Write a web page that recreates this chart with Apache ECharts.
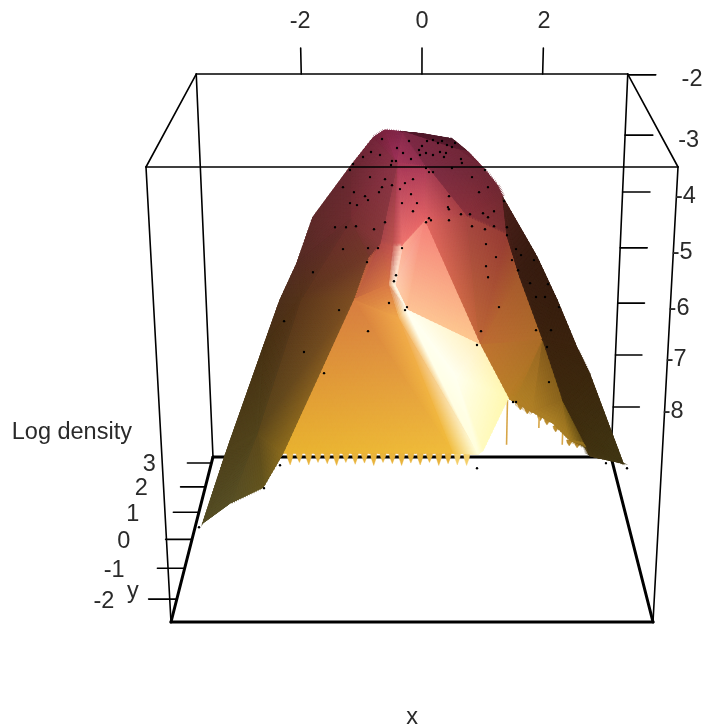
<!DOCTYPE html>
<html><head><meta charset="utf-8">
<style>html,body{margin:0;padding:0;background:#fff}#c{width:702px;height:728px}</style>
<script src="https://cdn.jsdelivr.net/npm/echarts@6/dist/echarts.min.js"></script>
</head><body><div id="c"></div>
<script>
// ---- data limits and tick labels ----
const xLimits = [-3.74, 3.41];
const yLimits = [-2.7, 3.26];
const zLimits = [-9, -2];
const xTicks = [-2, 0, 2];
const yTicks = [-2, -1, 0, 1, 2, 3];
const zTicks = [-2, -3, -4, -5, -6, -7, -8];
// where each log-density tick sits as read against the box edge
const zTickAt = [-2.014, -3.043, -4.037, -5.038, -6.05, -7.023, -8.02];
const xTitle = 'x', yTitle = 'y', zTitle = 'Log density';

// ---- surface vertices: [x, y, log density] ----
const surfaceVertices = {
  V0:[-3.584,.28,-8.835],V1:[-3.145,.28,-7.527],V2:[-2.512,.28,-5.756],V3:[-2.223,.28,-4.95],
  V4:[-1.944,.28,-4.342],V5:[-1.682,.28,-3.597],V6:[-1.104,.28,-2.8],V7:[-.754,.28,-2.347],
  V8:[-.571,.28,-2.224],V9:[-.31,2.07,-2.694],V10:[.012,2.07,-2.727],V11:[.48,2.07,-2.81],
  V12:[.739,2.07,-3.026],V13:[.985,2.07,-3.295],V14:[1.129,.28,-3.085],V15:[1.224,.28,-3.291],
  V16:[1.766,.28,-4.243],V17:[2.096,.28,-4.95],V18:[2.434,.28,-5.756],V19:[2.656,.28,-6.219],
  V20:[3.243,.28,-7.76],V21:[2.898,2.07,-8.44],V22:[2.771,2.07,-8.196],V23:[2.546,2.07,-8.14],
  V24:[2.246,2.07,-7.821],V25:[1.899,2.07,-7.615],V26:[1.589,2.07,-7.427],V27:[1.468,2.07,-7.353],
  V28:[.9,-1.51,-6.724],V30:[-2.103,-1.51,-6.773],V31:[-2.418,-1.51,-7.342],V32:[-2.928,-1.51,-7.609],
  S1:[.577,2.07,-2.993],I1:[-.392,.28,-2.737],I2:[.062,.28,-2.8],I3:[-.658,.28,-4.015],
  I4:[.034,.28,-3.677],I5:[-.429,.28,-4.703],I6:[-.243,.28,-5.118],I7:[.905,.28,-5.706],
  I8:[-.319,.28,-4.08],I9:[.678,.28,-3.597],I10:[1.296,.28,-3.887],I11:[1.511,.28,-4.572],
  I12:[1.896,.28,-5.622],I13:[2.24,.28,-6.648],I14:[2.653,.28,-7.474],I15:[-1.085,.28,-4.95],
  I16:[-.845,.28,-4.243],I19:[-1.115,.28,-3.645],LA1:[-1.911,.28,-4.95],LA2:[-2.653,.28,-7.228],
  I8L:[-.473,.28,-4.08],I5L:[-.538,.28,-4.703],W1:[-.384,.28,-5.252],W2:[.436,-1.51,-6.773],
  W4:[.827,-1.51,-6.79],FC:[.514,.28,-6.219]
};
const facets = [
 ['V7','V8','I1'],['V8','V9','I1'],['V6','V7','I1'],['V9','I2','I1'],
 ['V9','V10','S1'],['V10','V11','S1'],['V11','V12','S1'],['V9','S1','I2'],['S1','V12','V13'],['S1','V13','I2'],
 ['I2','V13','I9'],['V13','V14','I9'],['V14','V15','I9'],['V15','I10','I9'],
 ['I1','I2','I4'],['I1','I4','I8'],['I1','I8L','I8'],['I1','I3','I8L'],
 ['I2','I9','I4'],['I9','I7','I4'],['I9','I10','I7'],['I10','I11','I7'],['I11','I12','I7'],
 ['I7','I12','V27'],['I12','V26','V27'],['I12','V25','V26'],['I12','I13','V25'],['I13','V24','V25'],
 ['I13','V23','V24'],['I13','I14','V23'],['I14','V22','V23'],['I14','V21','V22'],
 ['V15','V16','I11'],['V15','I11','I10'],['V16','V17','I11'],['V17','I12','I11'],['V17','V18','I12'],
 ['V18','V19','I12'],['V19','I13','I12'],['V19','V20','I13'],['I13','V20','I14'],['I14','V20','V21'],
 ['I4','I8','I5'],['I4','I5','I6'],['I4','I6','I7'],
 ['I8L','I8','I5'],['I8L','I5','I5L'],['I5L','I5','I6'],['I5L','I6','W1'],['W1','I6','W4'],['W1','W4','W2'],
 ['I6','I7','FC'],['I7','V27','FC'],['V27','V28','FC'],['V28','W4','FC'],['W4','I6','FC'],
 ['I3','I8L','I5L'],['I3','I5L','I15'],['I3','I16','I15'],['I15','I5L','W1'],['I15','W1','W2'],['I15','W2','V30'],
 ['V6','I19','I1'],['I1','I19','I3'],['I19','I16','I3'],['I19','LA1','I16'],['LA1','I15','I16'],['LA1','LA2','I15'],
 ['LA2','V30','I15'],['LA2','V31','V30'],['LA2','V32','V31'],
 ['V5','V6','I19'],['V4','V5','I19'],['V4','I19','LA1'],['V3','V4','LA1'],['V2','V3','LA1'],['V2','LA1','LA2'],
 ['V1','V2','LA2'],['V0','V1','LA2'],['V0','LA2','V32']
];
// hanging grid cells along the hull edge: x, edge height, tip height
const fringeX = [-1.999,-1.859,-1.719,-1.579,-1.44,-1.3,-1.16,-1.02,-.88,-.741,-.601,-.461,-.321,-.182,-.042,.098,.238,.378,.517,.657];
const fringeTip = [-6.97,-6.93,-6.97,-6.93,-6.95,-6.98,-6.93,-6.96,-6.94,-6.98,-6.93,-6.95,-6.98,-6.94,-6.97,-6.93,-6.98,-6.95,-6.97,-6.98];
const fringeEdgeY = -1.51, fringeEdgeZ = -6.76;
const backFringeX = [1.682,1.802,2.024,2.144,2.297,2.537,2.674];
const backFringeEdge = [-7.465,-7.54,-7.671,-7.746,-7.877,-8.14,-8.177];
const backFringeTip = [-7.577,-7.652,-7.783,-7.858,-7.989,-8.252,-8.29];
const dripX = [1.46, 2.007, 2.417];
const dripTop = [-7.39, -7.71, -8.01];
const dripTip = [-8.23, -7.915, -8.23];
const dripY = 2.07;
// sample points: [x, y, log density]
const samplePoints = [
[-.648,2.07,-2.81],[-.407,2.07,-2.96],[-.213,2.07,-2.844],[-.827,2.07,-3.027],[-.682,2.07,-3.077],[-.957,2.07,-3.11],[-.31,2.07,-3.043],[-.181,2.07,-3.144],
[-.052,2.07,-2.993],[-.004,2.07,-2.927],[-.036,2.07,-3.077],[.061,2.07,-3.043],[.174,2.07,-3.077],[.287,2.07,-3.027],[.384,2.07,-3.043],[.352,2.07,-3.11],
[.077,2.07,-2.844],[.173,2.07,-2.827],[.254,2.07,-2.877],[.319,2.07,-2.844],[.399,2.07,-2.91],[.48,2.07,-2.943],[.528,2.07,-2.877],[.627,2.07,-3.144],
[.643,2.07,-3.211],[-.424,2.07,-3.177],[-.489,2.07,-3.177],[-.505,2.07,-3.244],[-1.119,2.07,-3.227],
[-1.106,.28,-2.847],[.047,.28,-2.815],[.093,.28,-2.879],[.154,.28,-2.879],[.441,.28,-2.815],[.942,.28,-2.847],[.747,.28,-2.958],[.992,.28,-3.117],[.857,.28,-3.196],
[.4,.28,-3.26],[-.15,.28,-2.99],[-.272,.28,-3.053],[-.348,.28,-3.148],[-.469,.28,-3.085],[-.575,.28,-2.99],[-.622,.28,-3.117],[-.668,.28,-3.196],[-.803,.28,-2.958],
[-1.05,.28,-3.196],[-1.216,.28,-3.117],[-.882,.28,-3.26],[-.837,.28,-3.323],[-1.112,.28,-3.371],[-1.006,.28,-3.403],[-.318,.28,-3.371],[-.18,.28,-3.228],[-.089,.28,-3.371],
[-.15,.28,-3.5],[.385,.28,-3.436],[.4,.28,-3.468],[.585,.28,-3.548],[.723,.28,-3.548],[.922,.28,-3.532],[1,.28,-3.597],[1.09,.28,-3.5],[.402,.28,-3.645],[.096,.28,-3.613],
[.126,.28,-3.645],[.05,.28,-3.677],[-.579,.28,-3.677],[.756,.28,-3.742],[.956,.28,-3.79],[1.094,.28,-3.742],[-1.025,.28,-3.742],[-1.178,.28,-3.758],[-1.347,.28,-3.758],
[-.749,.28,-3.79],[.975,.28,-4.031],[-.843,.28,-4.096],[-.689,.28,-4.096],[-.319,.28,-4.096],[-1.229,.28,-4.112],[-.861,.28,-4.325],[1.133,.28,-4.243],[.981,.28,-4.391],
[1.015,.28,-4.572],[-.413,.28,-4.539],[-.445,.28,-4.638],[-.524,.28,-5],[-.243,.28,-5.068],[-.274,.28,-5.118],[1.193,.28,-5.068],[-.855,.28,-5.471],[.918,.28,-5.471],
[.858,.28,-5.706],[1.293,.28,-3.758],[1.296,.28,-3.887],[1.44,.28,-4.112],[1.519,.28,-4.21],[1.721,.28,-4.292],[1.381,.28,-4.292],[1.478,.28,-4.457],[1.669,.28,-4.67],
[1.948,.28,-4.687],[1.767,.28,-4.9],[1.907,.28,-4.9],[2.13,.28,-5.068],[1.24,.28,-3.339],[-1.7,.28,-4.49],[-1.305,.28,-5.118],[-2.169,.28,-5.303],[-1.868,.28,-5.824],
[-1.558,.28,-6.185],[1.781,.28,-5.454],[2.016,.28,-5.454],[1.961,.28,-5.74],[2.009,.28,-6.339],[1.445,.28,-6.682],[1.493,.28,-6.682],[.886,.28,-7.85],[2.968,.28,-7.76],
[3.312,.28,-7.85],[-2.568,.28,-8.208],[-3.654,.28,-8.92],[-2.298,.28,-7.796]
];

// ---- styles ----
const facetShades = [
 [[110,35,55],[125,35,65],[150,50,80]],[[125,35,65],[130,40,75],[160,50,90]],[[105,40,50],[115,38,58],[140,50,72]],[[135,42,75],[145,50,80],[165,55,90]],
 [[85,25,45],[80,25,42],[95,30,50]],[[80,25,42],[75,25,40],[95,30,50]],[[75,25,40],[85,28,42],[95,30,50]],[[125,40,70],[115,40,58],[125,45,68]],[[115,40,58],[105,35,52],[110,40,55]],[[115,40,58],[110,40,55],[125,45,68]],
 [[125,45,68],[110,40,55],[140,50,60]],[[110,40,55],[112,40,52],[140,50,60]],[[112,40,52],[115,42,50],[140,50,60]],[[115,42,50],[125,50,48],[140,50,60]],
 [[165,55,88],[170,60,88],[228,100,102]],[[165,55,88],[228,100,102],[240,118,112]],[[165,55,86],[190,82,80],[240,118,112]],[[150,55,75],[170,72,75],[190,85,78]],
 [[165,60,85],[165,65,65],[228,100,102]],[[165,68,65],[195,105,58],[225,102,98]],[[165,70,65],[150,60,52],[190,105,55]],[[150,60,52],[165,90,45],[190,105,55]],[[165,90,45],[175,110,42],[190,108,52]],
 [[192,115,50],[170,108,40],[185,128,40]],[[170,108,40],[178,128,38],[185,128,40]],[[150,100,35],[175,128,38],[178,128,38]],[[130,88,28],[135,98,28],[175,128,38]],[[135,98,28],[170,128,38],[175,128,38]],
 [[135,98,28],[165,125,35],[170,128,38]],[[120,90,25],[95,75,22],[165,125,35]],[[95,75,22],[155,118,32],[165,125,35]],[[90,72,22],[120,95,28],[155,118,32]],
 [[75,32,28],[55,28,16],[58,30,18]],[[75,32,28],[58,30,18],[80,35,30]],[[55,28,16],[55,30,15],[58,30,18]],[[55,30,15],[60,35,15],[58,30,18]],[[55,30,15],[60,36,15],[60,35,15]],
 [[60,36,15],[60,40,15],[60,35,15]],[[60,40,15],[62,42,15],[60,35,15]],[[60,40,15],[65,55,20],[62,42,15]],[[62,42,15],[65,55,20],[65,50,18]],[[65,50,18],[65,55,20],[70,55,20]],
 [[245,130,122],[252,175,150],[254,205,175]],[[245,130,122],[254,205,175],[253,195,150]],[[245,130,122],[253,195,150],[253,200,142]],
 [[195,85,78],[255,205,185],[255,245,225]],[[195,85,78],[255,245,225],[218,122,70]],[[218,122,70],[255,250,230],[255,255,240]],[[218,122,70],[255,255,240],[240,170,75]],[[240,168,75],[255,255,240],[255,254,220]],[[240,168,75],[255,254,220],[240,188,60]],
 [[255,255,240],[255,240,190],[255,255,240]],[[255,240,190],[255,248,175],[255,255,240]],[[255,248,175],[255,250,190],[255,255,240]],[[255,250,190],[255,254,220],[255,255,240]],[[255,254,220],[255,255,240],[255,255,240]],
 [[175,72,72],[195,85,78],[218,122,70]],[[175,72,72],[218,122,70],[195,105,62]],[[175,72,72],[180,90,65],[205,115,62]],[[210,120,62],[218,122,70],[240,168,75]],[[215,125,65],[240,168,75],[240,188,60]],[[215,125,65],[240,188,60],[232,178,48]],
 [[105,40,50],[118,45,50],[140,52,72]],[[140,52,72],[118,47,50],[135,58,58]],[[118,47,50],[115,55,45],[135,58,58]],[[112,46,48],[92,55,28],[115,58,42]],[[92,55,28],[125,78,35],[115,58,42]],[[92,55,28],[92,72,28],[125,78,35]],
 [[92,72,28],[140,108,30],[125,78,35]],[[92,72,28],[100,85,30],[140,108,30]],[[92,72,28],[88,80,38],[100,85,30]],
 [[95,42,42],[105,40,50],[110,45,48]],[[85,44,35],[95,42,42],[110,45,48]],[[85,44,35],[105,45,46],[85,52,26]],[[78,48,28],[85,44,35],[85,52,26]],[[72,50,20],[78,48,28],[85,52,26]],[[72,50,20],[85,52,26],[82,68,28]],
 [[80,66,28],[72,50,20],[82,68,28]],[[85,78,38],[80,66,28],[82,68,28]],[[85,78,38],[82,68,28],[88,80,38]]
];
const FONT = '"Liberation Sans", Arial, sans-serif';
const FONT_SIZE = 23.5, TEXT_COLOR = '#2a2a2a', THIN = 1.6, THICK = 3;
const CELL_PX = 5;
// perspective box fitted to the picture
const view = {cx:412, halfW:241, base:622, depthY:-68.6, heightY:-470.7, depthD:.211, heightD:-.094};

// ---- projection ----
function project(u, v, w) {
  const d = 1 + view.depthD * v + view.heightD * w;
  return [view.cx + view.halfW * (2 * u - 1) / d, (view.base + view.depthY * v + view.heightY * w) / d];
}
const toU = x => (x - xLimits[0]) / (xLimits[1] - xLimits[0]);
const toV = y => (y - yLimits[0]) / (yLimits[1] - yLimits[0]);
const toW = z => (z - zLimits[0]) / (zLimits[1] - zLimits[0]);
const fromData = (x, y, z) => project(toU(x), toV(y), toW(z));

// ---- box and ticks ----
const C = (u, v, w) => [u, v, w];
const backEdges = [
  [C(0,1,1),C(1,1,1),THIN],[C(0,1,0),C(0,1,1),THIN],[C(1,1,0),C(1,1,1),THIN],
  [C(0,0,1),C(0,1,1),THIN],[C(1,0,1),C(1,1,1),THIN],
  [C(0,0,0),C(0,0,1),THIN],[C(1,0,0),C(1,0,1),THIN],
  [C(0,1,0),C(1,1,0),THICK],[C(0,0,0),C(0,1,0),THICK],[C(1,0,0),C(1,1,0),THICK],[C(0,0,0),C(1,0,0),THICK]
];
const frontEdges = [[C(0,0,1),C(1,0,1),THIN]];
xTicks.forEach(t => backEdges.push([C(toU(t),1,1),C(toU(t),1,1.0625),THIN]));
zTickAt.forEach(t => backEdges.push([C(1,1,toW(t)),C(1.065,1,toW(t)),THIN]));
yTicks.forEach(t => backEdges.push([C(0,toV(t),0),C(-.06,toV(t),0),THIN]));

const labels = [];
xTicks.forEach(t => labels.push([String(t), C(toU(t),1,1.124), 0]));
zTicks.forEach((t, i) => labels.push([String(t), C(1.149,1,toW(zTickAt[i])), 5]));
yTicks.forEach(t => labels.push([String(t), C(-.155,toV(t),0), 2]));
labels.push([xTitle, C(.5,0,-.238), 0]);
labels.push([yTitle, C(-.098,.155,0), 0]);
labels.push([zTitle, C(-.35,1,.07), 0]);

const custom = (z, n, renderItem) => ({type:'custom', coordinateSystem:'cartesian2d', silent:true, z, clip:false, animation:false, progressive:0,
  data:Array.from({length:n}, (_, i) => [i]), renderItem});

function edgeSeries(list, z) {
  return custom(z, list.length, (params, api) => {
    const e = list[params.dataIndex];
    const a = api.coord(project(...e[0])), b = api.coord(project(...e[1]));
    return {type:'line', shape:{x1:a[0],y1:a[1],x2:b[0],y2:b[1]}, style:{stroke:'#000', lineWidth:e[2], lineCap:'round'}};
  });
}
function shadeAt(sh, s, t) {
  const r = 1 - s - t;
  return 'rgb(' + [0,1,2].map(i => Math.round(sh[0][i]*r + sh[1][i]*s + sh[2][i]*t)).join(',') + ')';
}
// first pass: one solid polygon per facet, so that no white can show between the shaded cells
const facetBaseSeries = custom(2, facets.length, (params, api) => {
  const f = facets[params.dataIndex], sh = facetShades[params.dataIndex];
  const P = f.map(n => api.coord(fromData(...surfaceVertices[n])));
  const col = shadeAt(sh, 1/3, 1/3);
  return {type:'polygon', shape:{points:P}, style:{fill:col, stroke:col, lineWidth:1}};
});
const surfaceSeries = custom(2, facets.length, (params, api) => {
  const f = facets[params.dataIndex], sh = facetShades[params.dataIndex];
  const P = f.map(n => api.coord(fromData(...surfaceVertices[n])));
  const at = (s, t) => { const r = 1 - s - t; return [P[0][0]*r+P[1][0]*s+P[2][0]*t, P[0][1]*r+P[1][1]*s+P[2][1]*t]; };
  const len = (a, b) => Math.hypot(a[0]-b[0], a[1]-b[1]);
  const n = Math.max(1, Math.ceil(Math.max(len(P[0],P[1]), len(P[1],P[2]), len(P[2],P[0])) / CELL_PX));
  const children = [];
  const tri = (a, b, c, col) => children.push({type:'polygon', shape:{points:[a,b,c]}, style:{fill:col, stroke:col, lineWidth:1.1}});
  for (let i = 0; i < n; i++) for (let j = 0; j < n - i; j++) {
    const s0 = i/n, t0 = j/n, e = 1/n;
    tri(at(s0,t0), at(s0+e,t0), at(s0,t0+e), shadeAt(sh, s0+e/3, t0+e/3));
    if (i + j < n - 1) tri(at(s0+e,t0), at(s0+e,t0+e), at(s0,t0+e), shadeAt(sh, s0+2*e/3, t0+2*e/3));
  }
  return {type:'group', children};
});
function tooth(api, x, half, y, edge, tip, col) {
  const mid = edge + (tip - edge) * .45;
  const pts = [[x-half,edge],[x+half,edge],[x+half*.75,mid],[x,tip],[x-half*.75,mid]].map(p => api.coord(fromData(p[0], y, p[1])));
  return {type:'polygon', shape:{points:pts}, style:{fill:col, stroke:col, lineWidth:.4}};
}
const fringeSeries = custom(2, fringeX.length, (params, api) => {
  const i = params.dataIndex, x = fringeX[i];
  return tooth(api, x, .05, fringeEdgeY, fringeEdgeZ, fringeTip[i], x > .45 ? '#f4cf6a' : '#e9b43c');
});
const backFringeSeries = custom(2, backFringeX.length, (params, api) => {
  const i = params.dataIndex;
  return tooth(api, backFringeX[i], .05, dripY, backFringeEdge[i], backFringeTip[i], '#b98a2c');
});
const dripSeries = custom(2, dripX.length, (params, api) => {
  const i = params.dataIndex;
  const a = api.coord(fromData(dripX[i], dripY, dripTop[i])), b = api.coord(fromData(dripX[i], dripY, dripTip[i]));
  return {type:'line', shape:{x1:a[0],y1:a[1],x2:b[0],y2:b[1]}, style:{stroke:'#d7a648', lineWidth:1.6}};
});
const pointSeries = custom(3, samplePoints.length, (params, api) => {
  const c = api.coord(fromData(...samplePoints[params.dataIndex]));
  return {type:'circle', shape:{cx:c[0], cy:c[1], r:1.2}, style:{fill:'#000'}};
});
const labelSeries = custom(5, labels.length, (params, api) => {
  const l = labels[params.dataIndex], c = api.coord(project(...l[1]));
  return {type:'text', x:c[0], y:c[1] + l[2], style:{text:l[0], font:FONT_SIZE + 'px ' + FONT, fill:TEXT_COLOR, align:'center', verticalAlign:'middle'}};
});

const chart = echarts.init(document.getElementById('c'), null, {renderer:'canvas'});
chart.setOption({
  animation:false,
  backgroundColor:'#fff',
  grid:{left:0, right:0, top:0, bottom:0},
  xAxis:{type:'value', min:0, max:702, show:false},
  yAxis:{type:'value', min:0, max:728, inverse:true, show:false},
  series:[edgeSeries(backEdges, 1), fringeSeries, backFringeSeries, dripSeries, facetBaseSeries, surfaceSeries, pointSeries, edgeSeries(frontEdges, 4), labelSeries]
});
</script></body></html>
